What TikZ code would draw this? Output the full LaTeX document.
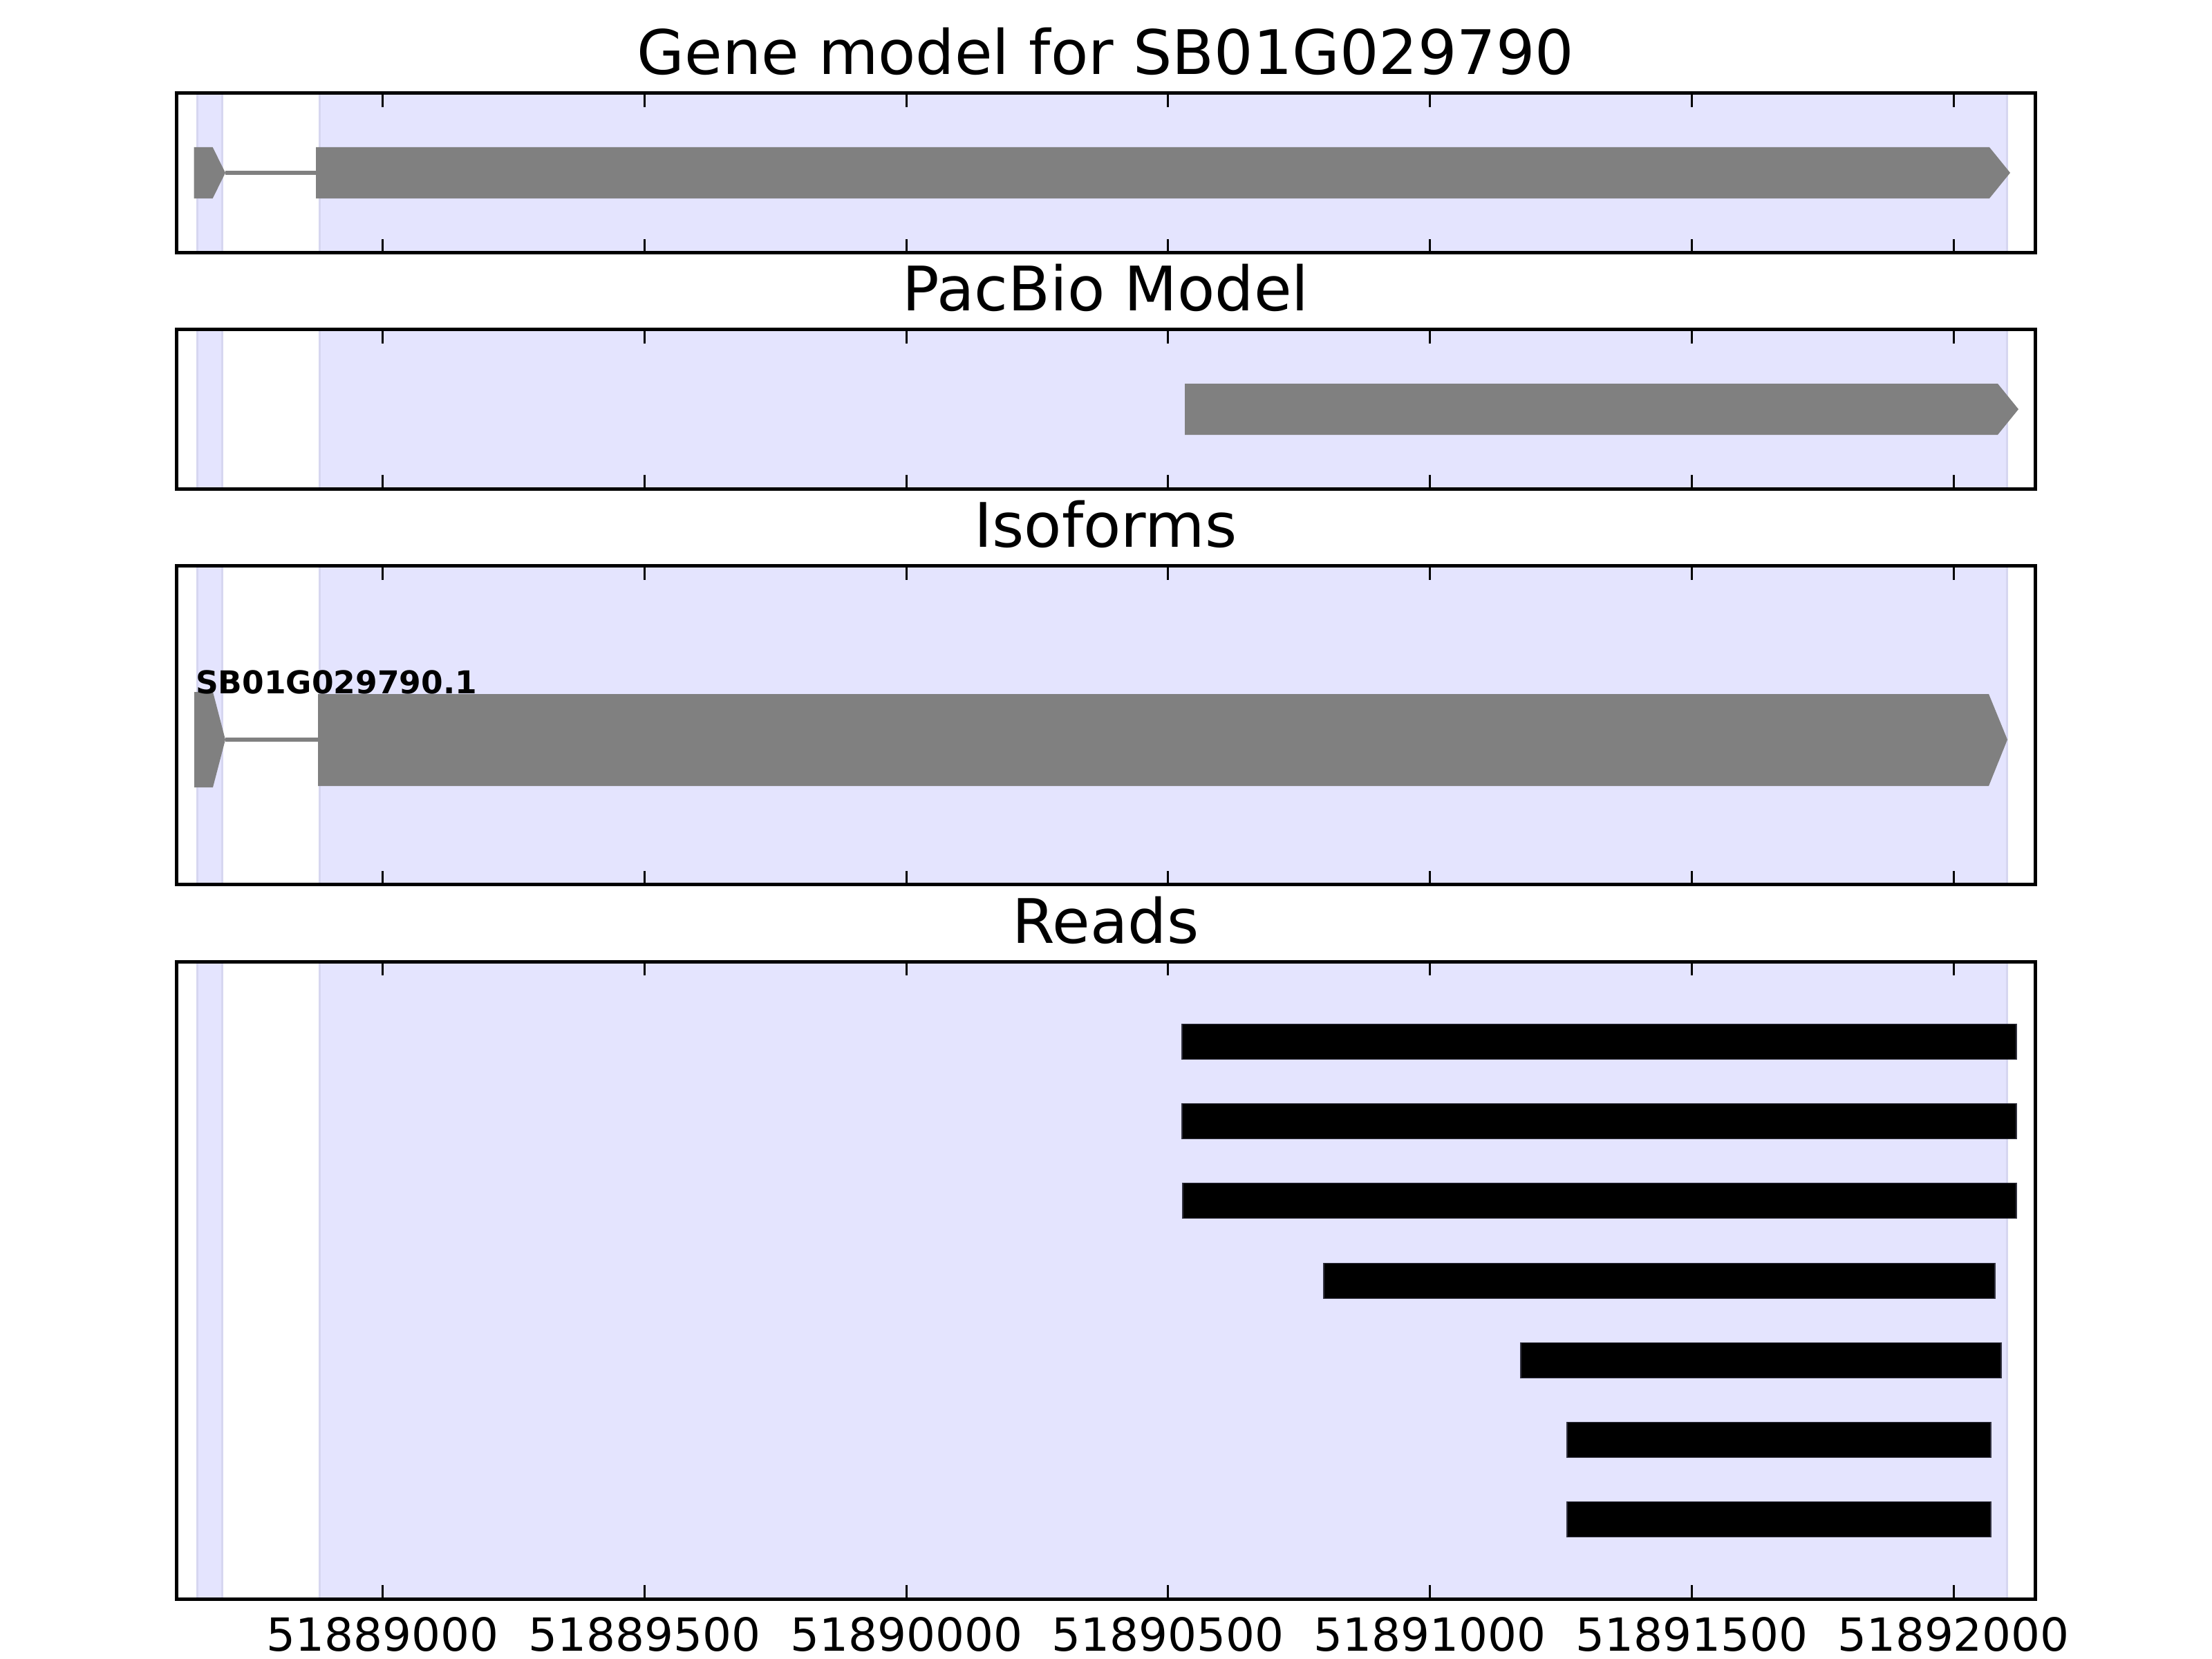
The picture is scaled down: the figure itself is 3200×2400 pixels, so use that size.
\documentclass[tikz,border=0pt]{standalone}
\usepackage{fontspec}
\setmainfont{DejaVu Sans}
\definecolor{spanblue}{RGB}{228,228,254}
\definecolor{spanedge}{RGB}{214,214,240}
\definecolor{genegray}{RGB}{128,128,128}
\definecolor{readedge}{RGB}{50,50,64}
\begin{document}
\begin{tikzpicture}[x=1pt,y=-1pt,
  spanfill/.style={fill=spanblue, draw=spanedge, line width=3pt},
  genefill/.style={fill=genegray},
  intronline/.style={draw=genegray, line width=6pt},
  readbar/.style={fill=black, draw=readedge, line width=1.2pt},
  axframe/.style={draw=black, line width=5pt},
  tickmark/.style={draw=black, line width=3pt},
  titletext/.style={anchor=base, inner sep=0pt, font=\fontsize{88.8}{100}\selectfont},
  ticktext/.style={anchor=base, inner sep=0pt, font=\fontsize{66}{80}\selectfont},
  isotext/.style={anchor=base west, inner sep=0pt, font=\bfseries\fontsize{45.5}{52}\selectfont}]
\useasboundingbox (0,0) rectangle (3200,2400);
\fill[white] (0,0) rectangle (3200,2400);

% shaded exon spans
\foreach \t/\b in {135/365.6, 476.8/707.4, 818.6/1279.8, 1391/2313.4} {
  \path[spanfill] (285,\t) rectangle (321,\b);
  \path[spanfill] (462,\t) rectangle (2903,\b);
}

% gene model
\fill[genefill] (280.7,213) -- (307.7,213) -- (326,250) -- (307.7,287) -- (280.7,287) -- cycle;
\draw[intronline] (326,250) -- (457,250);
\fill[genefill] (457,213) -- (2878,213) -- (2908,250) -- (2878,287) -- (457,287) -- cycle;

% pacbio model
\fill[genefill] (1714,555) -- (2890,555) -- (2920,592) -- (2890,629) -- (1714,629) -- cycle;

% isoforms
\fill[genefill] (281,1001) -- (308,1001) -- (326,1070) -- (308,1139) -- (281,1139) -- cycle;
\draw[intronline] (326,1070) -- (460,1070);
\fill[genefill] (460,1004) -- (2877,1004) -- (2904,1070) -- (2877,1137) -- (460,1137) -- cycle;
\node[isotext] (isolabel) at (283,1003) {SB01G029790.1};

% reads
\foreach \l/\r/\c in {1710/2917/1507, 1710/2917/1622, 1711/2917/1737, 1915/2886/1853, 2200/2895/1968, 2267/2880/2083, 2267/2880/2198} {
  \path[readbar] (\l,\c-25.5) rectangle (\r,\c+25.5);
}

% frames and ticks
\foreach \t/\b in {135/365.6, 476.8/707.4, 818.6/1279.8, 1391/2313.4} {
  \foreach \x in {553.8, 932.5, 1311.2, 1689.9, 2068.6, 2447.3, 2826.0} {
    \draw[tickmark] (\x,\t) -- (\x,\t+20);
    \draw[tickmark] (\x,\b) -- (\x,\b-20);
  }
  \draw[axframe] (255,\t) rectangle (2944,\b);
}

% titles
\node[titletext] (title1) at (1599.5,108) {Gene model for SB01G029790};
\node[titletext] (title2) at (1599.5,449.8) {PacBio Model};
\node[titletext] (title3) at (1599.5,791.6) {Isoforms};
\node[titletext] (title4) at (1599.5,1364) {Reads};

% tick labels
\foreach \x/\lab [count=\i] in {553.8/51889000, 932.5/51889500, 1311.2/51890000, 1689.9/51890500, 2068.6/51891000, 2447.3/51891500, 2826.0/51892000} {
  \node[ticktext] (tl\i) at (\x,2388) {\lab};
}
\end{tikzpicture}
\end{document}
